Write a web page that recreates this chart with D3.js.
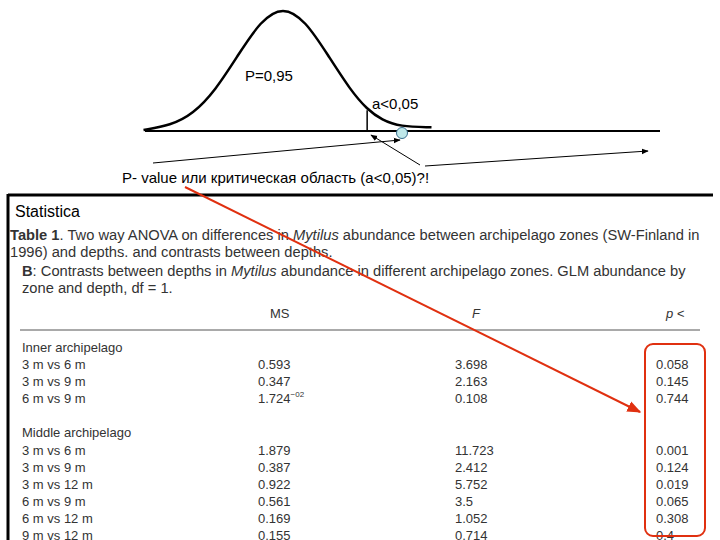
<!DOCTYPE html>
<html><head><meta charset="utf-8">
<script src="https://cdn.jsdelivr.net/npm/d3@7"></script>
<style>body{margin:0;background:#fff}text{font-family:Arial,"Liberation Sans",sans-serif}</style>
</head><body><div class="chart"></div>
<script>
// curve samples (z, density)
var curveZ = [-3.1,-2.5,-2,-1.5,-1,-0.5,0,0.5,1,1.5,1.87,2.2,2.6,3.3];
var curveD = [0.003,0.018,0.054,0.13,0.242,0.352,0.399,0.352,0.242,0.13,0.069,0.035,0.014,0.012];
var critZ = 1.87;
var rowLabels = ['Inner archipelago','3 m vs 6 m','3 m vs 9 m','6 m vs 9 m','','Middle archipelago','3 m vs 6 m','3 m vs 9 m','3 m vs 12 m','6 m vs 9 m','6 m vs 12 m','9 m vs 12 m'];
var msVals = ['','0.593','0.347','1.724','','','1.879','0.387','0.922','0.561','0.169','0.155'];
var fVals  = ['','3.698','2.163','0.108','','','11.723','2.412','5.752','3.5','1.052','0.714'];
var pVals  = ['','0.058','0.145','0.744','','','0.001','0.124','0.019','0.065','0.308','0.4'];

var width = 720, height = 540;
var svg = d3.select('.chart').append('svg').attr('width',width).attr('height',height);
var defs = svg.append('defs');
function marker(id,col){
  defs.append('marker').attr('id',id).attr('viewBox','0 0 10 10').attr('refX',9).attr('refY',5)
    .attr('markerWidth',7).attr('markerHeight',7).attr('orient','auto')
    .append('path').attr('d','M0,1L10,5L0,9z').attr('fill',col);
}
marker('ab','#000'); marker('ar','#e03010');

var x = d3.scaleLinear().domain([-3,3]).range([148,418]);
var y = d3.scaleLinear().domain([0,0.399]).range([131,6]);

svg.append('line').attr('x1',145).attr('x2',660).attr('y1',131).attr('y2',131).attr('stroke','#000').attr('stroke-width',2);
svg.append('path').datum(d3.range(curveZ.length))
  .attr('d',d3.line().x(function(i){return x(curveZ[i]);}).y(function(i){return y(curveD[i]);}).curve(d3.curveBasis))
  .attr('fill','none').attr('stroke','#000').attr('stroke-width',2.5);
svg.append('line').attr('x1',x(critZ)).attr('x2',x(critZ)).attr('y1',y(0.066)).attr('y2',131).attr('stroke','#000').attr('stroke-width',1.5);
svg.append('circle').attr('cx',402).attr('cy',133).attr('r',5.5).attr('fill','#bfe8ea').attr('stroke','#3a6f8f');
svg.append('text').attr('x',245).attr('y',81).attr('font-size',15).text('P=0,95');
svg.append('text').attr('x',372).attr('y',109).attr('font-size',15).text('a<0,05');

var arrows = [[153,163,400,140],[425,166,648,151],[420,165,371,135]];
svg.selectAll('.arr').data(arrows).enter().append('line')
  .attr('x1',function(d){return d[0];}).attr('y1',function(d){return d[1];})
  .attr('x2',function(d){return d[2];}).attr('y2',function(d){return d[3];})
  .attr('stroke','#000').attr('stroke-width',1).attr('marker-end','url(#ab)');
svg.append('text').attr('x',122).attr('y',183).attr('font-size',15).text('P- value  или критическая область (a<0,05)?!');

// table frame
svg.append('line').attr('x1',8).attr('x2',713).attr('y1',195).attr('y2',195).attr('stroke','#000').attr('stroke-width',3);
svg.append('line').attr('x1',8).attr('x2',8).attr('y1',194).attr('y2',540).attr('stroke','#000').attr('stroke-width',3);
svg.append('text').attr('x',15).attr('y',217).attr('font-size',16).text('Statistica');

var g = svg.append('g').attr('fill','#333').attr('font-size',13);
var p = g.append('g').attr('font-size',14.7);
var t1 = p.append('text').attr('x',10).attr('y',240);
t1.append('tspan').attr('font-weight','bold').text('Table 1');
t1.append('tspan').text('. Two way ANOVA on differences in ');
t1.append('tspan').attr('font-style','italic').text('Mytilus');
t1.append('tspan').text(' abundance between archipelago zones (SW-Finland in');
p.append('text').attr('x',10).attr('y',257).text('1996) and depths. and contrasts between depths.');
var t2 = p.append('text').attr('x',22).attr('y',276);
t2.append('tspan').attr('font-weight','bold').text('B');
t2.append('tspan').text(': Contrasts between depths in ');
t2.append('tspan').attr('font-style','italic').text('Mytilus');
t2.append('tspan').text(' abundance in different archipelago zones. GLM abundance by');
p.append('text').attr('x',22).attr('y',293).text('zone and depth, df = 1.');
g.append('text').attr('x',270).attr('y',318).text('MS');
g.append('text').attr('x',472).attr('y',318).attr('font-style','italic').text('F');
g.append('text').attr('x',666).attr('y',318).attr('font-style','italic').text('p <');
svg.append('line').attr('x1',20).attr('x2',700).attr('y1',330).attr('y2',330).attr('stroke','#555');

var ry = d3.scaleBand().domain(d3.range(rowLabels.length)).range([338,544]);
var rows = g.selectAll('.row').data(d3.range(rowLabels.length)).enter().append('g')
  .attr('transform',function(i){return 'translate(0,'+(ry(i)+ry.bandwidth()/2+5)+')';});
rows.append('text').attr('x',22).text(function(i){return rowLabels[i];});
rows.append('text').attr('x',258).text(function(i){return msVals[i];})
  .filter(function(i){return i===3;}).append('tspan').attr('font-size',8).attr('dy',-6).text('−02');
rows.append('text').attr('x',455).text(function(i){return fVals[i];});
rows.append('text').attr('x',656).text(function(i){return pVals[i];});

svg.append('rect').attr('x',645).attr('y',344).attr('width',60).attr('height',192).attr('rx',8)
  .attr('fill','none').attr('stroke','#e03010').attr('stroke-width',2);
svg.append('line').attr('x1',185).attr('y1',187).attr('x2',640).attr('y2',412)
  .attr('stroke','#e03010').attr('stroke-width',2).attr('marker-end','url(#ar)');
</script></body></html>
